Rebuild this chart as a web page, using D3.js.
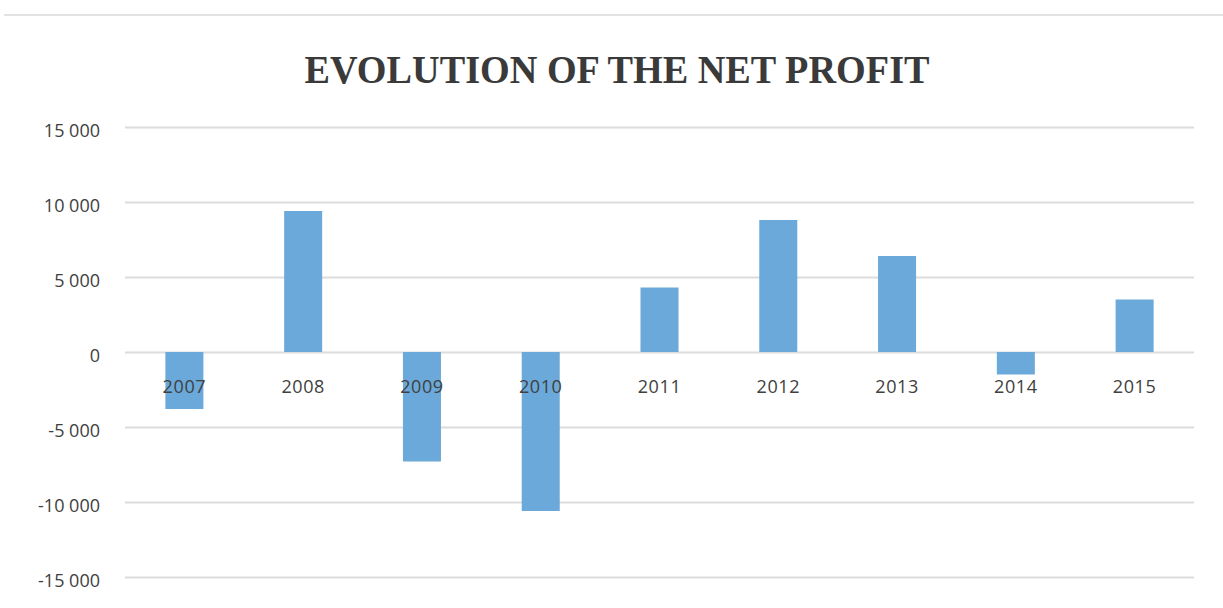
<!DOCTYPE html>
<html>
<head>
<meta charset="utf-8">
<script src="https://cdn.jsdelivr.net/npm/d3@7"></script>
<style>
  body { margin: 0; background: #fff; }
  svg { display: block; }
</style>
</head>
<body>
<svg width="1223" height="608"></svg>
<script>

var years = ['2007', '2008', '2009', '2010', '2011', '2012', '2013', '2014', '2015'];

var profit = [-3800, 9400, -7300, -10600, 4300, 8800, 6400, -1500, 3500];

var yTicks = [15000, 10000, 5000, 0, -5000, -10000, -15000];

var chartTitle = 'EVOLUTION OF THE NET PROFIT';

var svg = d3.select('svg');

var fmt = d3.formatLocale({ decimal: ',', thousands: ' ', grouping: [3], currency: ['', ''], minus: '-' }).format(',d');

var x = d3.scaleBand()
    .domain(years)
    .range([125, 1194])
    .paddingInner(0.68)
    .paddingOuter(0.34);

var y = d3.scaleLinear()
    .domain([-15000, 15000])
    .range([577, 127]);

// top border of the chart frame
svg.append('line')
    .attr('x1', 4).attr('x2', 1223)
    .attr('y1', 15).attr('y2', 15)
    .attr('stroke', '#e2e2e2')
    .attr('stroke-width', 2);

// condensed serif title, squeezed to the reference width
svg.append('text')
    .attr('x', 617)
    .attr('y', 83)
    .attr('text-anchor', 'middle')
    .attr('font-family', 'Liberation Serif')
    .attr('font-weight', 'bold')
    .attr('font-size', 40)
    .attr('fill', '#3a3a3a')
    .attr('textLength', 625)
    .attr('lengthAdjust', 'spacingAndGlyphs')
    .text(chartTitle);

// gridlines + y labels
var yAxis = d3.axisLeft(y)
    .tickValues(yTicks)
    .tickFormat(fmt)
    .tickSize(-(1194 - 125))
    .tickPadding(25);

var gy = svg.append('g')
    .attr('transform', 'translate(125,0)')
    .call(yAxis);

gy.select('.domain').remove();
gy.selectAll('.tick line')
    .attr('stroke', '#dcdcdc')
    .attr('stroke-width', 2);
gy.selectAll('.tick text')
    .attr('font-family', 'Open Sans')
    .attr('font-size', 18)
    .attr('fill', '#404040')
    .attr('dy', '0.65em')
    .attr('y', -2);

// bars
svg.append('g').selectAll('rect')
    .data(profit)
    .join('rect')
    .attr('x', function (d, i) { return x(years[i]); })
    .attr('width', x.bandwidth())
    .attr('y', function (d) { return y(Math.max(0, d)); })
    .attr('height', function (d) { return Math.abs(y(d) - y(0)); })
    .attr('fill', '#6aa9da');

// category labels sit just under the zero line
var xAxis = d3.axisBottom(x).tickSize(0).tickPadding(0);

var gx = svg.append('g')
    .attr('transform', 'translate(0,' + y(0) + ')')
    .call(xAxis);

gx.select('.domain').remove();
gx.selectAll('.tick text')
    .attr('font-family', 'Open Sans')
    .attr('font-size', 18)
    .attr('fill', '#404040')
    .attr('dy', 0)
    .attr('y', 41)
    .attr('letter-spacing', 0.6);

</script>
</body>
</html>
